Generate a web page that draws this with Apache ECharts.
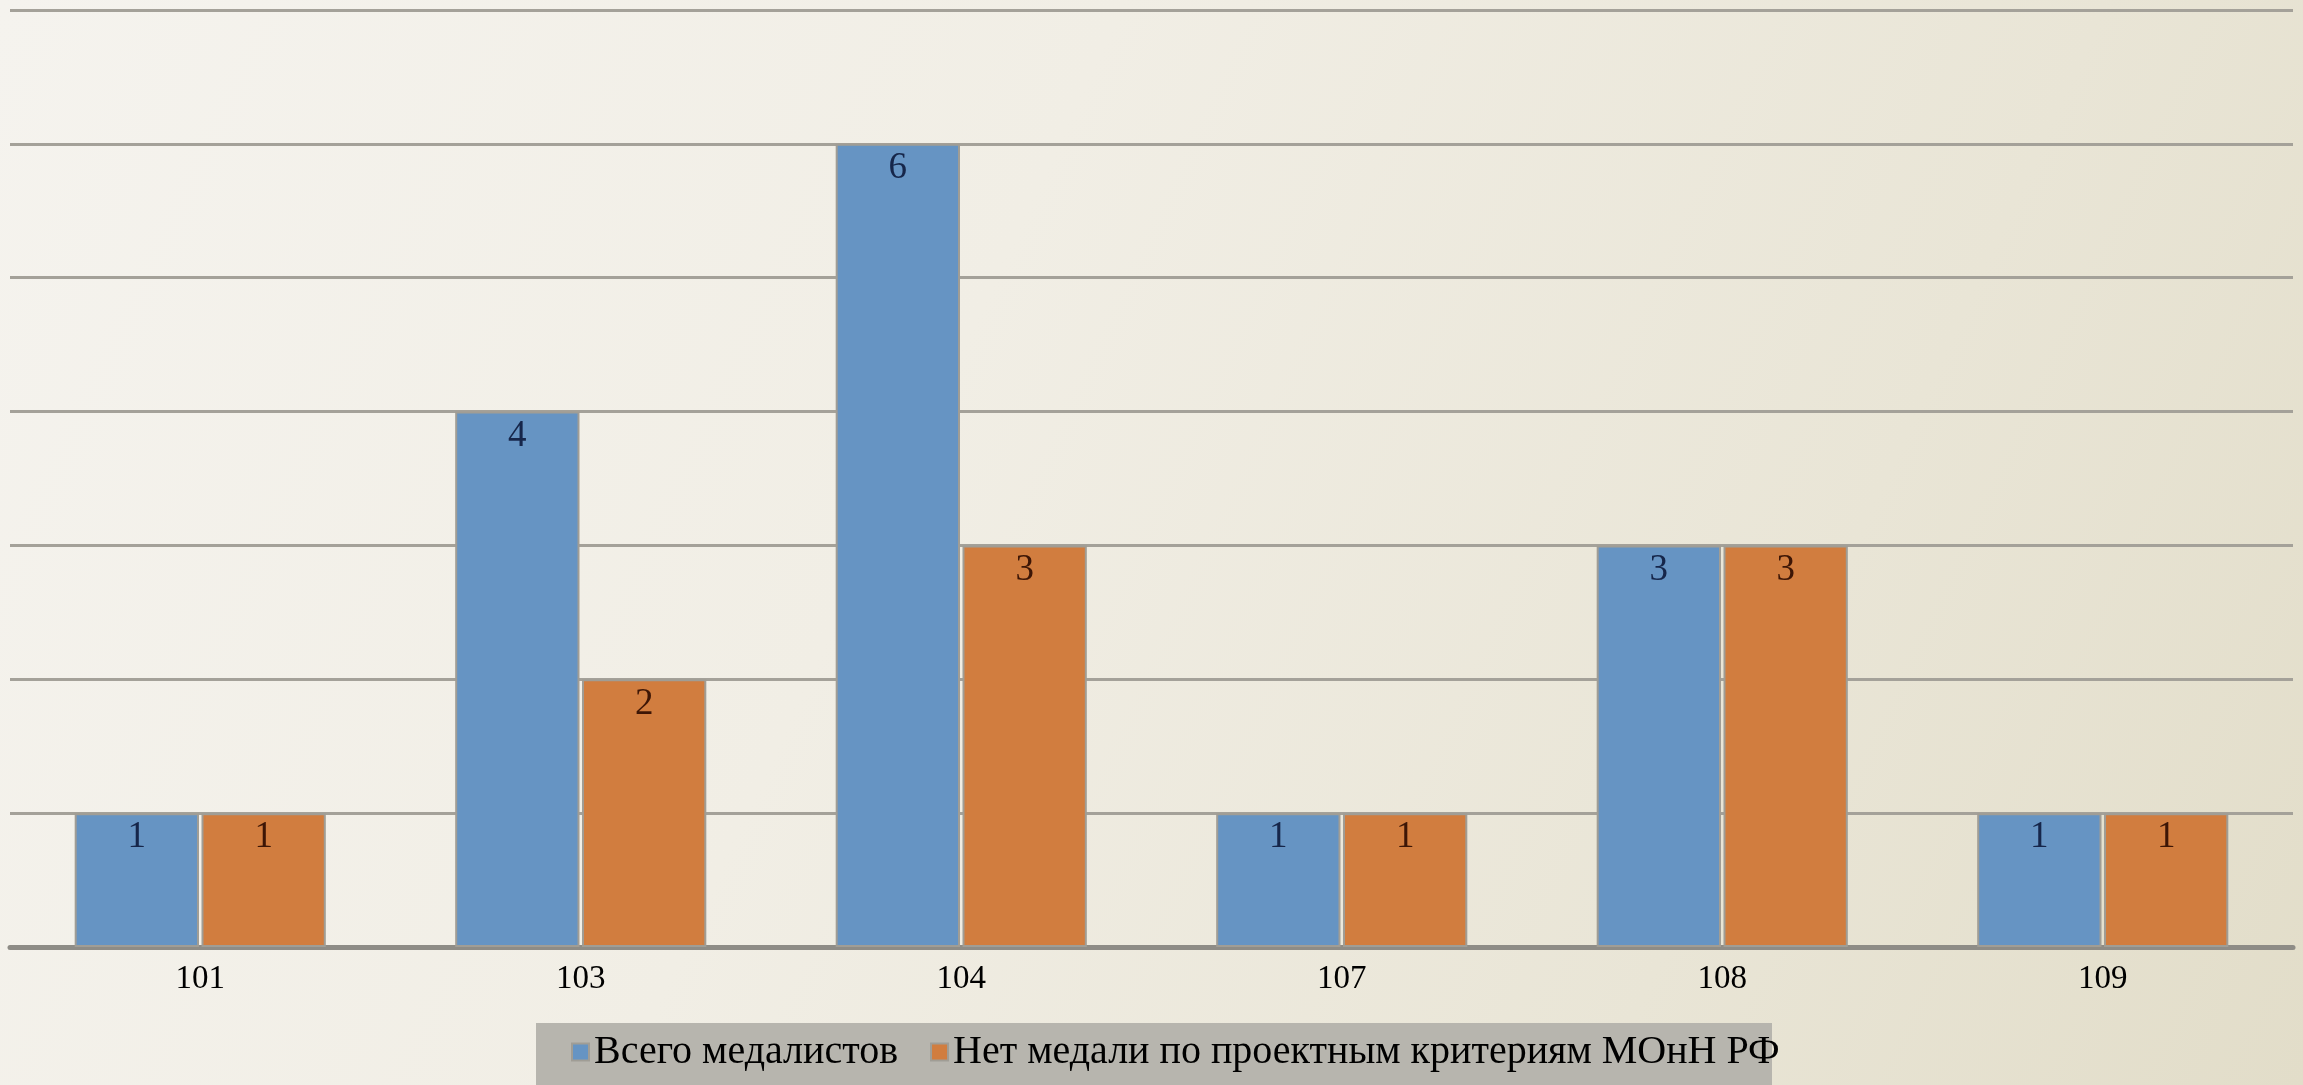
<!DOCTYPE html>
<html>
<head>
<meta charset="utf-8">
<script src="https://cdn.jsdelivr.net/npm/echarts@6/dist/echarts.min.js"></script>
<style>
html,body{margin:0;padding:0;width:2303px;height:1085px;overflow:hidden;}
body{background:linear-gradient(115deg,#f5f3ee 0%,#f1eee5 40%,#e9e5d6 75%,#e2ddc9 100%);}
#chart{width:2303px;height:1085px;}
</style>
</head>
<body>
<div id="chart"></div>
<script>
const categories = ['101', '103', '104', '107', '108', '109'];
const seriesNames = ['Всего медалистов', 'Нет медали по проектным критериям МОнН РФ'];
const totalMedalists = [1, 4, 6, 1, 3, 1];
const noMedalByCriteria = [1, 2, 3, 1, 3, 1];
const yTicks = [0, 1, 2, 3, 4, 5, 6, 7];

const chart = echarts.init(document.getElementById('chart'), null, {renderer: 'canvas'});
const serif = "'Liberation Serif', serif";

function barSeries(name, data, color, labelColor) {
  return {
    name: name,
    type: 'bar',
    data: data,
    barGap: '2%',
    barCategoryGap: '34%',
    itemStyle: {color: color, borderColor: '#a09d95', borderWidth: 2},
    label: {
      show: true,
      position: 'insideTop',
      distance: 6,
      fontFamily: serif,
      fontSize: 37,
      color: labelColor
    }
  };
}

chart.setOption({
  backgroundColor: 'transparent',
  animation: false,
  color: ['#6694c3', '#d17d3f'],
  textStyle: {fontFamily: serif},
  grid: {left: 10, right: 10, top: 10, bottom: 138, containLabel: false},
  graphic: [{
    type: 'rect',
    left: 536, top: 1023,
    shape: {width: 1236, height: 70},
    style: {fill: '#b7b5ae'},
    z: 0
  }],
  legend: {
    data: seriesNames,
    left: 566,
    top: 1027,
    itemWidth: 17,
    itemHeight: 17,
    itemGap: 32,
    icon: 'rect',
    textStyle: {fontFamily: serif, fontSize: 40, color: '#000'},
    z: 5
  },
  xAxis: {
    type: 'category',
    data: categories,
    axisLine: {show: true, lineStyle: {color: '#8e8c86', width: 5}},
    axisTick: {show: false},
    axisLabel: {fontFamily: serif, fontSize: 33, color: '#000', margin: 16}
  },
  yAxis: {
    type: 'value',
    min: yTicks[0],
    max: yTicks[yTicks.length - 1],
    interval: 1,
    axisLine: {show: false},
    axisTick: {show: false},
    axisLabel: {show: false},
    splitLine: {show: true, lineStyle: {color: '#a4a199', width: 3}}
  },
  series: [
    barSeries(seriesNames[0], totalMedalists, '#6694c3', '#16264a'),
    barSeries(seriesNames[1], noMedalByCriteria, '#d17d3f', '#3d1606')
  ]
});
</script>
</body>
</html>
